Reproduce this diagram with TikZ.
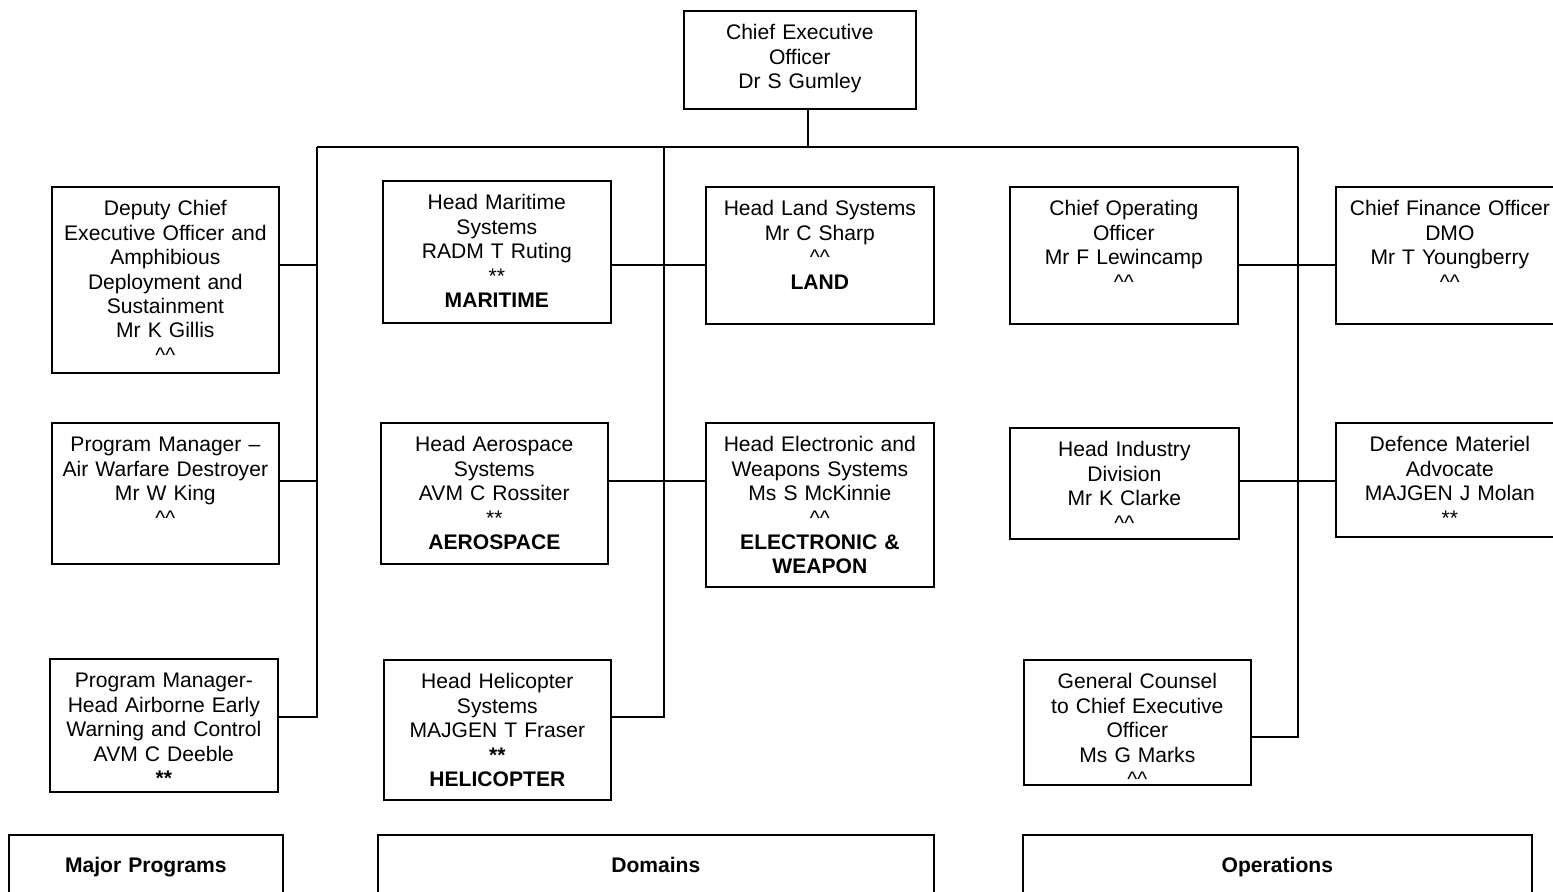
\documentclass[tikz,border=0pt]{standalone}
\usepackage{fontspec}
\setmainfont{Liberation Sans}
\usepackage{tikz}
\usetikzlibrary{positioning,calc}

\begin{document}
\begin{tikzpicture}[x=0.02cm,y=-0.02cm,line width=1pt,
  every node/.style={font=\fontsize{12}{13.9}\selectfont},
  unit/.style={draw,anchor=north west,inner sep=0pt,
    align=center,text width=4.56cm,text height=0.58cm},
  group/.style={unit,text height=0.76cm,text depth=1cm,
    font=\fontsize{12}{13.9}\selectfont\bfseries}
]

\clip (0,0) rectangle (1553,892);

% chief executive
\node[unit,text width=4.64cm,text depth=1.38cm] (ceo) at (683,10)
  {Chief Executive\\Officer\\Dr S Gumley};

% major programs
\node[unit,text width=4.54cm,text depth=3.14cm] (dceo) at (51,186)
  {Deputy Chief\\Executive Officer and\\Amphibious\\Deployment and\\Sustainment\\Mr K Gillis\\\textasciicircum\textasciicircum};
\node[unit,text width=4.54cm,text depth=2.24cm] (awd) at (51,422)
  {Program Manager --\\Air Warfare Destroyer\\Mr W King\\\textasciicircum\textasciicircum};
\node[unit,text depth=2.08cm] (aewc) at (49,658)
  {Program Manager-\\Head Airborne Early\\Warning and Control\\AVM C Deeble\\\textbf{**}};

% domains
\node[unit,text depth=2.26cm] (mar) at (382,180)
  {Head Maritime\\Systems\\RADM T Ruting\\{}**\\\textbf{MARITIME}};
\node[unit,text depth=2.16cm] (land) at (705,186)
  {Head Land Systems\\Mr C Sharp\\\textasciicircum\textasciicircum\\\textbf{LAND}};
\node[unit,text width=4.54cm,text depth=2.24cm] (aero) at (380,422)
  {Head Aerospace\\Systems\\AVM C Rossiter\\{}**\\\textbf{AEROSPACE}};
\node[unit,text depth=2.70cm] (ewar) at (705,422)
  {Head Electronic and\\Weapons Systems\\Ms S McKinnie\\\textasciicircum\textasciicircum\\\textbf{ELECTRONIC \&}\\\textbf{WEAPON}};
\node[unit,text width=4.54cm,text depth=2.22cm] (heli) at (383,659)
  {Head Helicopter\\Systems\\MAJGEN T Fraser\\\textbf{**}\\\textbf{HELICOPTER}};

% operations
\node[unit,text depth=2.16cm] (coo) at (1009,186)
  {Chief Operating\\Officer\\Mr F Lewincamp\\\textasciicircum\textasciicircum};
\node[unit,text depth=2.16cm] (cfo) at (1335,186)
  {Chief Finance Officer\\DMO\\Mr T Youngberry\\\textasciicircum\textasciicircum};
\node[unit,text width=4.58cm,text depth=1.64cm] (ind) at (1009,427)
  {Head Industry\\Division\\Mr K Clarke\\\textasciicircum\textasciicircum};
\node[unit,text depth=1.70cm] (dma) at (1335,422)
  {Defence Materiel\\Advocate\\MAJGEN J Molan\\{}**};
\node[unit,text width=4.54cm,text depth=1.92cm] (gc) at (1023,659)
  {General Counsel\\to Chief Executive\\Officer\\Ms G Marks\\\textasciicircum\textasciicircum};

% the groups
\node[group,text width=5.48cm] (mp) at (8,834) {Major Programs};
\node[group,text width=11.12cm] (dom) at (377,834) {Domains};
\node[group,text width=10.18cm] (ops) at (1022,834) {Operations};

% the lines
\coordinate (busl) at (317,147);
\coordinate (busm) at (664,147);
\coordinate (busc) at (808,147);
\coordinate (busr) at (1298,147);
\coordinate (row1) at (0,265);
\coordinate (row2) at (0,481);
\coordinate (row3) at (0,717);
\coordinate (row4) at (0,737);

\draw (ceo.south -| busc) -- (busc);
\draw (busl) -- (busr);

\draw (busl) |- (aewc.east |- row3);
\draw (dceo.east |- row1) -- (busl |- row1);
\draw (awd.east |- row2) -- (busl |- row2);

\draw (busm) |- (heli.east |- row3);
\draw (mar.east |- row1) -- (land.west |- row1);
\draw (aero.east |- row2) -- (ewar.west |- row2);

\draw (busr) |- (gc.east |- row4);
\draw (coo.east |- row1) -- (cfo.west |- row1);
\draw (ind.east |- row2) -- (dma.west |- row2);

\end{tikzpicture}
\end{document}
